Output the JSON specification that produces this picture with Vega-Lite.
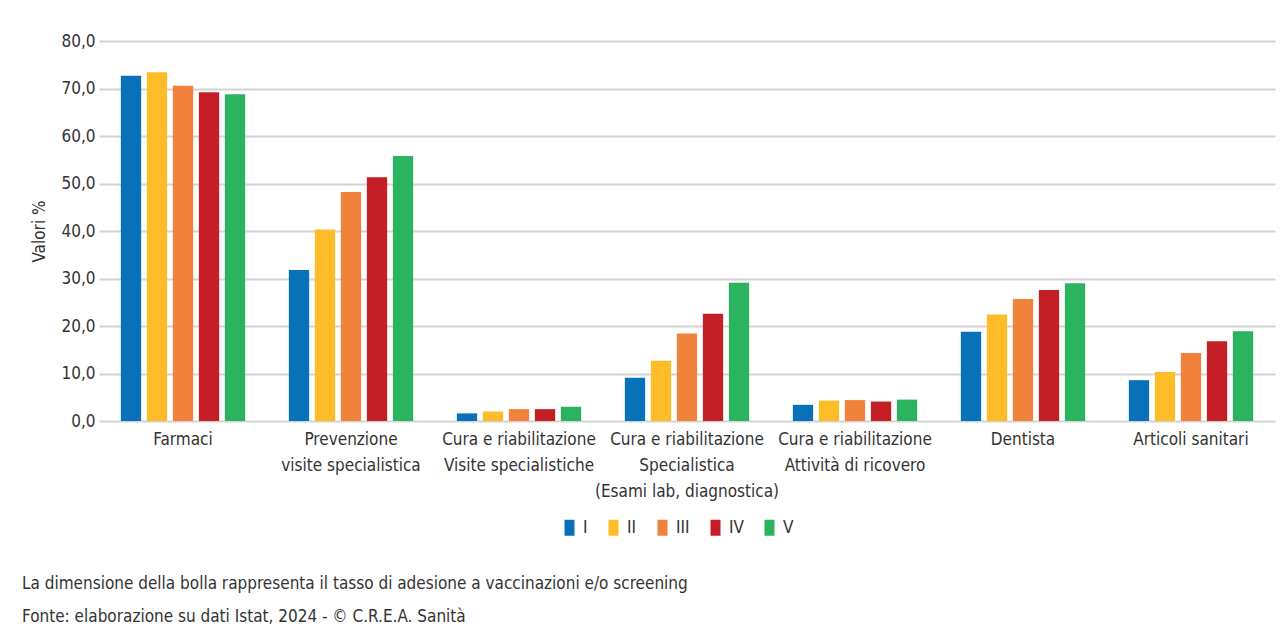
{
  "$schema": "https://vega.github.io/schema/vega-lite/v6.json",
  "width": 1176,
  "height": 380,
  "autosize": {"type": "none"},
  "padding": {"left": 99, "top": 41, "right": 7, "bottom": 210},
  "background": "white",
  "config": {
    "font": "DejaVu Sans Condensed, Roboto, sans-serif",
    "view": {"stroke": null}
  },
  "title": {
    "text": [
      "La dimensione della bolla rappresenta il tasso di adesione a vaccinazioni e/o screening",
      "Fonte: elaborazione su dati Istat, 2024 - © C.R.E.A. Sanità"
    ],
    "orient": "bottom",
    "anchor": "start",
    "frame": "bounds",
    "fontSize": 17,
    "fontWeight": "normal",
    "color": "#333333",
    "lineHeight": 33,
    "offset": 40,
    "dx": -9
  },
  "data": {
    "values": [
      {"categoria": "Farmaci", "quintile": "I", "valore": 72.7},
      {"categoria": "Farmaci", "quintile": "II", "valore": 73.4},
      {"categoria": "Farmaci", "quintile": "III", "valore": 70.6},
      {"categoria": "Farmaci", "quintile": "IV", "valore": 69.2},
      {"categoria": "Farmaci", "quintile": "V", "valore": 68.8},
      {"categoria": "Prevenzione|visite specialistica", "quintile": "I", "valore": 31.8},
      {"categoria": "Prevenzione|visite specialistica", "quintile": "II", "valore": 40.3},
      {"categoria": "Prevenzione|visite specialistica", "quintile": "III", "valore": 48.2},
      {"categoria": "Prevenzione|visite specialistica", "quintile": "IV", "valore": 51.3},
      {"categoria": "Prevenzione|visite specialistica", "quintile": "V", "valore": 55.8},
      {"categoria": "Cura e riabilitazione|Visite specialistiche", "quintile": "I", "valore": 1.6},
      {"categoria": "Cura e riabilitazione|Visite specialistiche", "quintile": "II", "valore": 2.0},
      {"categoria": "Cura e riabilitazione|Visite specialistiche", "quintile": "III", "valore": 2.5},
      {"categoria": "Cura e riabilitazione|Visite specialistiche", "quintile": "IV", "valore": 2.5},
      {"categoria": "Cura e riabilitazione|Visite specialistiche", "quintile": "V", "valore": 3.0},
      {"categoria": "Cura e riabilitazione|Specialistica|(Esami lab, diagnostica)", "quintile": "I", "valore": 9.1},
      {"categoria": "Cura e riabilitazione|Specialistica|(Esami lab, diagnostica)", "quintile": "II", "valore": 12.7},
      {"categoria": "Cura e riabilitazione|Specialistica|(Esami lab, diagnostica)", "quintile": "III", "valore": 18.4},
      {"categoria": "Cura e riabilitazione|Specialistica|(Esami lab, diagnostica)", "quintile": "IV", "valore": 22.6},
      {"categoria": "Cura e riabilitazione|Specialistica|(Esami lab, diagnostica)", "quintile": "V", "valore": 29.1},
      {"categoria": "Cura e riabilitazione|Attività di ricovero", "quintile": "I", "valore": 3.4},
      {"categoria": "Cura e riabilitazione|Attività di ricovero", "quintile": "II", "valore": 4.3},
      {"categoria": "Cura e riabilitazione|Attività di ricovero", "quintile": "III", "valore": 4.4},
      {"categoria": "Cura e riabilitazione|Attività di ricovero", "quintile": "IV", "valore": 4.1},
      {"categoria": "Cura e riabilitazione|Attività di ricovero", "quintile": "V", "valore": 4.5},
      {"categoria": "Dentista", "quintile": "I", "valore": 18.8},
      {"categoria": "Dentista", "quintile": "II", "valore": 22.4},
      {"categoria": "Dentista", "quintile": "III", "valore": 25.7},
      {"categoria": "Dentista", "quintile": "IV", "valore": 27.6},
      {"categoria": "Dentista", "quintile": "V", "valore": 29.0},
      {"categoria": "Articoli sanitari", "quintile": "I", "valore": 8.6},
      {"categoria": "Articoli sanitari", "quintile": "II", "valore": 10.3},
      {"categoria": "Articoli sanitari", "quintile": "III", "valore": 14.3},
      {"categoria": "Articoli sanitari", "quintile": "IV", "valore": 16.8},
      {"categoria": "Articoli sanitari", "quintile": "V", "valore": 18.9}
    ]
  },
  "mark": {"type": "bar"},
  "encoding": {
    "x": {
      "field": "categoria",
      "type": "nominal",
      "sort": null,
      "scale": {"paddingInner": 0.26, "paddingOuter": 0.13},
      "axis": {
        "title": null,
        "labelAngle": 0,
        "labelExpr": "split(datum.label, '|')",
        "labelFontSize": 17,
        "labelLineHeight": 26,
        "labelPadding": 10,
        "labelColor": "#333333",
        "labelLimit": 400,
        "ticks": false,
        "domain": false
      }
    },
    "xOffset": {
      "field": "quintile",
      "type": "nominal",
      "sort": ["I", "II", "III", "IV", "V"],
      "scale": {"paddingInner": 0.22}
    },
    "y": {
      "field": "valore",
      "type": "quantitative",
      "scale": {"domain": [0, 80]},
      "axis": {
        "title": "Valori %",
        "titleFontSize": 17,
        "titleFontWeight": "normal",
        "titleColor": "#333333",
        "titlePadding": 12,
        "values": [0, 10, 20, 30, 40, 50, 60, 70, 80],
        "labelExpr": "replace(format(datum.value, '.1f'), '.', ',')",
        "labelFontSize": 17,
        "labelColor": "#333333",
        "labelPadding": 4,
        "gridColor": "#d3d3d3",
        "gridWidth": 2,
        "ticks": false,
        "domain": false
      }
    },
    "color": {
      "field": "quintile",
      "type": "nominal",
      "sort": ["I", "II", "III", "IV", "V"],
      "scale": {
        "domain": ["I", "II", "III", "IV", "V"],
        "range": ["#0971b8", "#fdbd28", "#f0823b", "#c41f26", "#2bb35e"]
      },
      "legend": {
        "title": null,
        "orient": "none",
        "legendX": 462,
        "legendY": 478,
        "direction": "horizontal",
        "padding": 0,
        "symbolType": "M-1,-1.6H1V1.6H-1Z",
        "symbolSize": 100,
        "symbolStrokeWidth": 0,
        "labelFontSize": 17,
        "labelColor": "#333333",
        "labelOffset": 5,
        "columnPadding": 17
      }
    }
  }
}
